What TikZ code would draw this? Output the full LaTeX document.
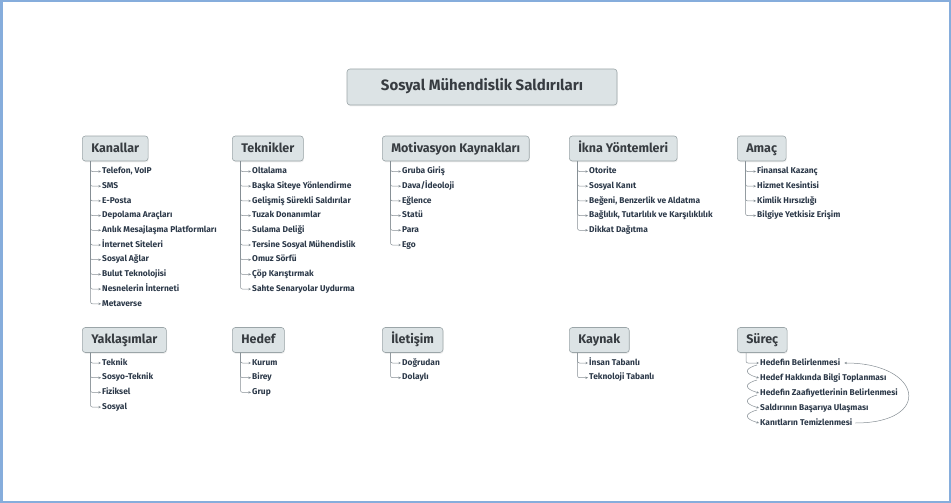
\documentclass[tikz,border=0pt]{standalone}
\usepackage{fontspec}
\setmainfont{Fira Sans}
\usetikzlibrary{arrows.meta,shadows}
\definecolor{boxfill}{HTML}{DCE3E5}
\definecolor{boxline}{HTML}{9BA5A8}
\definecolor{boxtxt}{HTML}{373C41}
\definecolor{itemtxt}{HTML}{2B3848}
\definecolor{wirecol}{HTML}{858E94}
\definecolor{framecol}{HTML}{86ADDC}
\begin{document}
\begin{tikzpicture}[x=1pt,y=-1pt,
   catbox/.style={draw=boxline,fill=boxfill,rounded corners=3pt,line width=0.6pt,text=boxtxt,
     font=\fontsize{12.5}{14}\selectfont\bfseries,minimum height=25pt,inner xsep=9pt,
     text height=9.5pt,text depth=2.5pt,
     drop shadow={opacity=0.12,shadow xshift=0.6pt,shadow yshift=-1.4pt}},
   leaf/.style={anchor=west,text=itemtxt,font=\fontsize{8.4}{10}\selectfont\bfseries,inner sep=1pt,
     text height=6.3pt,text depth=1.8pt},
   wire/.style={draw=wirecol,line width=0.5pt,rounded corners=2pt,-{Stealth[length=2.6pt,width=2.4pt]}}]
\useasboundingbox (0,0) rectangle (951,503);
\draw[framecol,line width=2.5pt] (1.25,1.25) rectangle (949.75,501.75);
% one topic box with its list of items hanging below
\newcommand{\topic}[5]{%
  \node[catbox,anchor=west] (#1) at (#2,#3) {#4};
  \foreach \lbl [count=\k] in {#5}{
     \node[leaf] (#1-\k) at ({#2+19},{#3+23+14.7*(\k-1)}) {\lbl};
     \draw[wire] ([xshift=8.5pt]#1.south west) |- (#1-\k.west);}}
\node[catbox,font=\fontsize{15}{18}\selectfont\bfseries,minimum width=270pt,minimum height=36pt,
   text height=11pt,text depth=3pt] (root) at (482,87) {Sosyal Mühendislik Saldırıları};
% top row
\topic{chan}{82}{148.5}{Kanallar}{{Telefon, VoIP},SMS,E-Posta,Depolama Araçları,Anlık Mesajlaşma Platformları,İnternet Siteleri,Sosyal Ağlar,Bulut Teknolojisi,Nesnelerin İnterneti,Metaverse}
\topic{tech}{232}{148.5}{Teknikler}{Oltalama,Başka Siteye Yönlendirme,Gelişmiş Sürekli Saldırılar,Tuzak Donanımlar,Sulama Deliği,Tersine Sosyal Mühendislik,Omuz Sörfü,Çöp Karıştırmak,Sahte Senaryolar Uydurma}
\topic{motv}{382}{148.5}{Motivasyon Kaynakları}{Gruba Giriş,{Dava/İdeoloji},Eğlence,Statü,Para,Ego}
\topic{pers}{569}{148.5}{İkna Yöntemleri}{Otorite,Sosyal Kanıt,{Beğeni, Benzerlik ve Aldatma},{Bağlılık, Tutarlılık ve Karşılıklılık},Dikkat Dağıtma}
\topic{goal}{737}{148.5}{Amaç}{Finansal Kazanç,Hizmet Kesintisi,Kimlik Hırsızlığı,Bilgiye Yetkisiz Erişim}
% bottom row
\topic{appr}{82}{340}{Yaklaşımlar}{Teknik,Sosyo-Teknik,Fiziksel,Sosyal}
\topic{targ}{232}{340}{Hedef}{Kurum,Birey,Grup}
\topic{comm}{382}{340}{İletişim}{Doğrudan,Dolaylı}
\topic{srce}{569}{340}{Kaynak}{İnsan Tabanlı,Teknoloji Tabanlı}
% process: steps chained, last one loops back to the first
\node[catbox,anchor=west] (proc) at (737,340) {Süreç};
\foreach \lbl [count=\k] in {Hedefin Belirlenmesi,Hedef Hakkında Bilgi Toplanması,Hedefin Zaafiyetlerinin Belirlenmesi,Saldırının Başarıya Ulaşması,Kanıtların Temizlenmesi}
   {\node[leaf] (proc-\k) at (759,{363+15*(\k-1)}) {\lbl};}
\draw[wire] ([xshift=9pt]proc.south west) |- (proc-1.west);
\foreach \k in {1,...,4}{\pgfmathtruncatemacro{\nx}{\k+1}
   \draw[wire] ([xshift=-2pt,yshift=-2pt]proc-\k.west) .. controls +(-14,4) and +(-14,-4) .. (proc-\nx.west);}
\draw[wire] ([xshift=2pt]proc-5.east) .. controls +(78,0) and +(78,0) .. ([xshift=3pt]proc-1.east);
\end{tikzpicture}
\end{document}
